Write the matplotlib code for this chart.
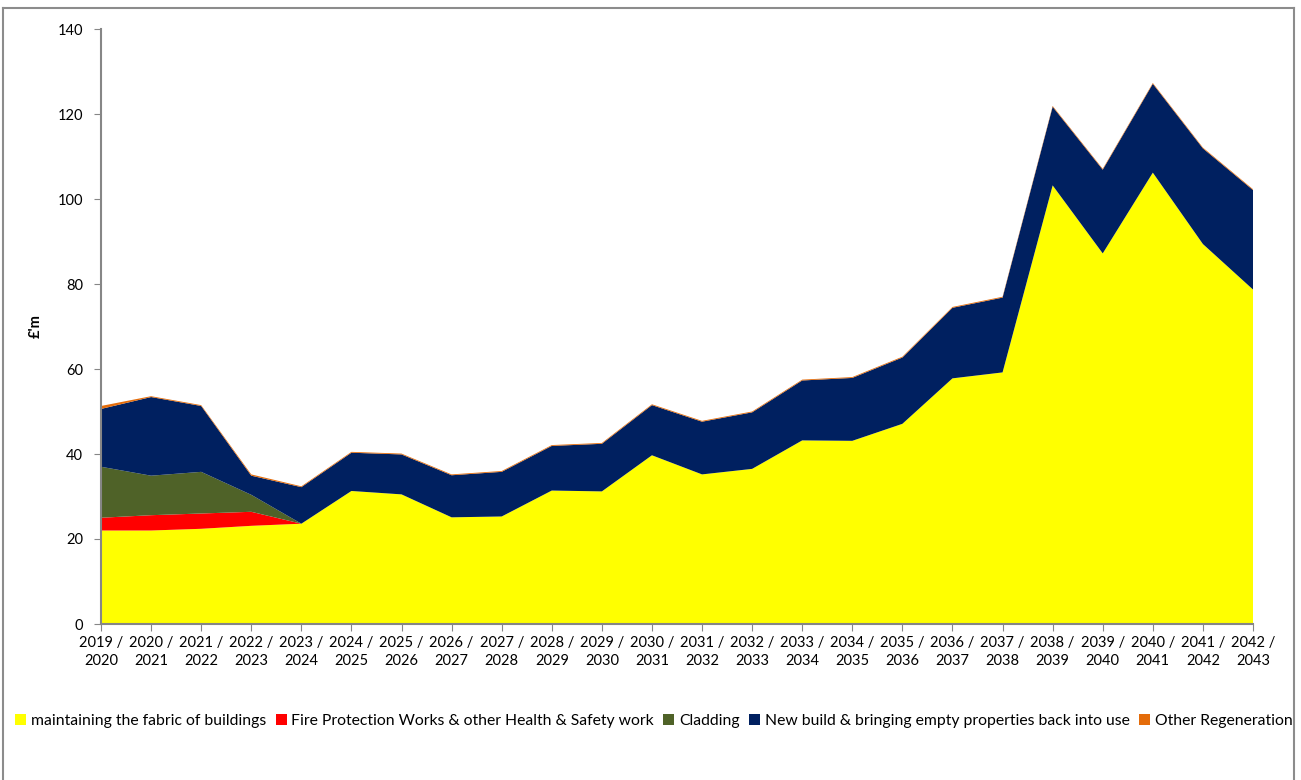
import numpy as np
import matplotlib.pyplot as plt

plt.rcParams['font.family'] = ['Lato', 'DejaVu Sans']

# Data (£'m)
years = ["2019 /\n2020", "2020 /\n2021", "2021 /\n2022", "2022 /\n2023", "2023 /\n2024",
         "2024 /\n2025", "2025 /\n2026", "2026 /\n2027", "2027 /\n2028", "2028 /\n2029",
         "2029 /\n2030", "2030 /\n2031", "2031 /\n2032", "2032 /\n2033", "2033 /\n2034",
         "2034 /\n2035", "2035 /\n2036", "2036 /\n2037", "2037 /\n2038", "2038 /\n2039",
         "2039 /\n2040", "2040 /\n2041", "2041 /\n2042", "2042 /\n2043"]

fabric = [22.0, 22.0, 22.4, 23.1, 23.6, 31.3, 30.5, 25.1, 25.3, 31.4, 31.2, 39.7,
          35.2, 36.5, 43.2, 43.1, 47.1, 57.8, 59.2, 103.2, 87.2, 106.2, 89.4, 78.7]
fire = [3.0, 3.6, 3.6, 3.3, 0, 0, 0, 0, 0, 0, 0, 0,
        0, 0, 0, 0, 0, 0, 0, 0, 0, 0, 0, 0]
cladding = [12.0, 9.3, 9.8, 4.0, 0, 0, 0, 0, 0, 0, 0, 0,
            0, 0, 0, 0, 0, 0, 0, 0, 0, 0, 0, 0]
newbuild = [13.6, 18.5, 15.5, 4.5, 8.6, 9.0, 9.4, 9.9, 10.5, 10.5, 11.2, 11.8,
            12.4, 13.3, 14.1, 14.8, 15.6, 16.6, 17.6, 18.5, 19.7, 20.9, 22.5, 23.4]
other = [0.7, 0.2, 0.2, 0.3, 0.2, 0.2, 0.2, 0.2, 0.2, 0.2, 0.2, 0.2,
         0.2, 0.2, 0.2, 0.2, 0.2, 0.2, 0.2, 0.2, 0.2, 0.2, 0.2, 0.2]

labels = ["maintaining the fabric of buildings",
          "Fire Protection Works & other Health & Safety work",
          "Cladding",
          "New build & bringing empty properties back into use",
          "Other Regeneration"]
colors = ["#FFFF00", "#FF0000", "#4F6228", "#002060", "#E46C0A"]

x = np.arange(len(years))

fig = plt.figure(figsize=(13.01, 7.8), dpi=100)

# outer chart frame (left, top, right edges; bottom runs off the image)
frame = fig.add_axes([3/1301, -0.1, 1291/1301, 1.1 - 8/780], zorder=-1)
frame.set_xticks([]); frame.set_yticks([])
frame.patch.set_alpha(0)
frame.spines['bottom'].set_visible(False)
for s in ['left', 'top', 'right']:
    frame.spines[s].set_color('#8C8C8C')
    frame.spines[s].set_linewidth(1.5)

ax = fig.add_axes([101/1301, 156/780, 1152/1301, 595/780])

ax.stackplot(x, fabric, fire, cladding, newbuild, other, colors=colors, labels=labels,
             linewidth=0)

ax.set_xlim(0, len(years) - 1)
ax.set_ylim(0, 140)
ax.set_yticks(np.arange(0, 141, 20))
ax.set_xticks(x)
ax.set_xticklabels(years, fontsize=10.5, linespacing=1.35)
ax.tick_params(axis='y', labelsize=10.5, length=5, color='#868686', pad=8)
ax.tick_params(axis='x', length=5, color='#868686', pad=4)
for s in ['top', 'right']:
    ax.spines[s].set_visible(False)
for s in ['left', 'bottom']:
    ax.spines[s].set_color('#868686')
    ax.spines[s].set_linewidth(1.5)
ax.set_ylabel("£'m", fontsize=10.5, fontweight='bold')
ax.yaxis.set_label_coords(-58/1152, 0.5)

fig.legend(loc='center left', bbox_to_anchor=(0.007, 59/780), ncol=5, frameon=False,
           fontsize=11.3, handlelength=0.7, handleheight=0.7, handletextpad=0.3,
           columnspacing=0.6, borderaxespad=0)

fig.savefig("out.png", dpi=100)
